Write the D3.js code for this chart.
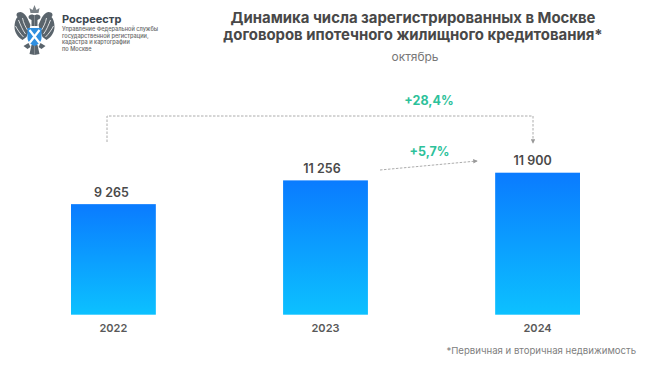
<!DOCTYPE html>
<html>
<head>
<meta charset="utf-8">
<script src="https://cdn.jsdelivr.net/npm/d3@7"></script>
<style>
	html, body { margin: 0; padding: 0; background: #fff; }
	svg { display: block; }
	text { font-family: Inter, "Noto Sans", sans-serif; }
</style>
</head>
<body>
<svg id="chart" width="650" height="365"></svg>
<script>
const years = ["2022", "2023", "2024"];
const contracts = [9265, 11256, 11900];
const valueLabels = ["9 265", "11 256", "11 900"];
const titleLines = ["Динамика числа зарегистрированных в Москве", "договоров ипотечного жилищного кредитования*"];
const orgLines = ["Управление Федеральной службы", "государственной регистрации,", "кадастра и картографии", "по Москве"];

// labels sit a bit left of the bar centre in the original
const labelShift = [-2, -3.5, -5];

const svg = d3.select("#chart");

const xScale = d3.scaleBand()
	.domain(years)
	.range([71, 580])
	.paddingInner(0.6)
	.paddingOuter(0);

const yScale = d3.scaleLinear()
	.domain([0, 11900])
	.range([314.7, 172.7]);

// Bar gradient
const defs = svg.append("defs");
const grad = defs.append("linearGradient")
	.attr("id", "barFill")
	.attr("x1", 0).attr("y1", 0).attr("x2", 0).attr("y2", 1);
grad.append("stop").attr("offset", "0%").attr("stop-color", "#0a7bff");
grad.append("stop").attr("offset", "100%").attr("stop-color", "#0cc1ff");

const marker = defs.append("marker")
	.attr("id", "arrow")
	.attr("viewBox", "0 0 6 6")
	.attr("refX", 5).attr("refY", 3)
	.attr("markerWidth", 5).attr("markerHeight", 5)
	.attr("orient", "auto");
marker.append("path").attr("d", "M0,0L6,3L0,6Z").attr("fill", "#999");

// Bars
svg.selectAll(".bar")
	.data(contracts)
	.enter()
	.append("rect")
	.attr("class", "bar")
	.attr("x", (d, i) => xScale(years[i]))
	.attr("y", d => yScale(d))
	.attr("width", xScale.bandwidth())
	.attr("height", d => yScale(0) - yScale(d))
	.attr("fill", "url(#barFill)");

// Value labels
svg.selectAll(".label")
	.data(contracts)
	.enter()
	.append("text")
	.attr("class", "label")
	.attr("x", (d, i) => xScale(years[i]) + xScale.bandwidth() / 2 + labelShift[i])
	.attr("y", d => yScale(d) - 7.5)
	.attr("text-anchor", "middle")
	.attr("font-size", 12.5)
	.attr("font-weight", 600)
	.attr("fill", "#4a4a4a")
	.text((d, i) => valueLabels[i]);

// Year axis
const xAxis = svg.append("g")
	.attr("transform", "translate(0,314.7)")
	.call(d3.axisBottom(xScale).tickSize(0).tickPadding(10));
xAxis.select(".domain").remove();
xAxis.selectAll("text")
	.attr("font-family", "Inter")
	.attr("font-size", 11)
	.attr("font-weight", 600)
	.attr("fill", "#595959");

// Title
svg.append("text")
	.attr("x", 413).attr("y", 23)
	.attr("text-anchor", "middle")
	.attr("font-size", 14.9)
	.attr("font-weight", 700)
	.attr("fill", "#484848")
	.selectAll("tspan")
	.data(titleLines)
	.enter()
	.append("tspan")
	.attr("x", 413)
	.attr("dy", (d, i) => i ? 16.5 : 0)
	.text(d => d);

svg.append("text")
	.attr("x", 415).attr("y", 61)
	.attr("text-anchor", "middle")
	.attr("font-size", 12)
	.attr("fill", "#777")
	.text("октябрь");

// Growth brackets
svg.append("path")
	.attr("d", "M107,142V116H533V143")
	.attr("fill", "none")
	.attr("stroke", "#a3a3a3")
	.attr("stroke-width", 0.9)
	.attr("stroke-dasharray", "2.5 1.5")
	.attr("marker-end", "url(#arrow)");

svg.append("path")
	.attr("d", "M380,170L477,161")
	.attr("fill", "none")
	.attr("stroke", "#a3a3a3")
	.attr("stroke-width", 0.9)
	.attr("stroke-dasharray", "2.5 1.5")
	.attr("marker-end", "url(#arrow)");

svg.append("text")
	.attr("x", 429).attr("y", 105)
	.attr("text-anchor", "middle")
	.attr("font-size", 12.5)
	.attr("font-weight", 700)
	.attr("fill", "#2dc19a")
	.text("+28,4%");

svg.append("text")
	.attr("x", 429.5).attr("y", 155.5)
	.attr("text-anchor", "middle")
	.attr("font-size", 12.5)
	.attr("font-weight", 700)
	.attr("fill", "#2dc19a")
	.text("+5,7%");

// Footnote
svg.append("text")
	.attr("x", 636).attr("y", 354)
	.attr("text-anchor", "end")
	.attr("font-size", 9.6)
	.attr("fill", "#808080")
	.text("*Первичная и вторичная недвижимость");

// Org block
svg.append("text")
	.attr("x", 62).attr("y", 23)
	.attr("font-size", 11)
	.attr("font-weight", 700)
	.attr("fill", "#3c4750")
	.text("Росреестр");

svg.selectAll(".org")
	.data(orgLines)
	.enter()
	.append("text")
	.attr("class", "org")
	.attr("x", 62)
	.attr("y", (d, i) => 31 + i * 6.7)
	.attr("font-size", 5.6)
	.attr("font-weight", 500)
	.attr("fill", "#666")
	.text(d => d);

// Emblem: one half of the eagle, drawn twice
const logo = svg.append("g").attr("transform", "translate(34.5,0)");
[1, -1].forEach(function(side) {
	const half = logo.append("g").attr("transform", `scale(${side},1)`);
	// wing
	half.append("path")
		.attr("d", "M4,25C7,18 9,13 14,12C18,12 19,15 17,17C19,19 20,23 20,27C20,32 17,37 12,40L8,37C6,32 5,29 4,25Z")
		.attr("fill", "#5a646c");
	// feather gaps
	half.append("path")
		.attr("d", "M16,20C14,25 12,30 9,34M19,26C17,30 14,34 11,37M12,18C11,23 9,27 7,30")
		.attr("fill", "none")
		.attr("stroke", "#fff")
		.attr("stroke-width", 0.8);
	// head
	half.append("path")
		.attr("d", "M1,15C3,14 6,15 6,17C6,19 4,19 3,20L3,26L0,26L0,15Z")
		.attr("fill", "#5a646c");
	// leg and tail
	half.append("path")
		.attr("d", "M6,43L11,46L7,49L4,47ZM0,45L3,45L5,54L0,55Z")
		.attr("fill", "#5a646c");
});
// crown
logo.append("path")
	.attr("d", "M-4,13L-5,8L-2,10L0,5L2,10L5,8L4,13Z")
	.attr("fill", "#7a8288");
// shield
logo.append("path")
	.attr("d", "M-7,28H7V38C7,42 3,45 0,46C-3,45 -7,42 -7,38Z")
	.attr("fill", "#2f8fe0");
logo.append("path")
	.attr("d", "M-5,30L5,43M5,30L-5,43")
	.attr("stroke", "#fff")
	.attr("stroke-width", 2.2);
</script>
</body>
</html>
